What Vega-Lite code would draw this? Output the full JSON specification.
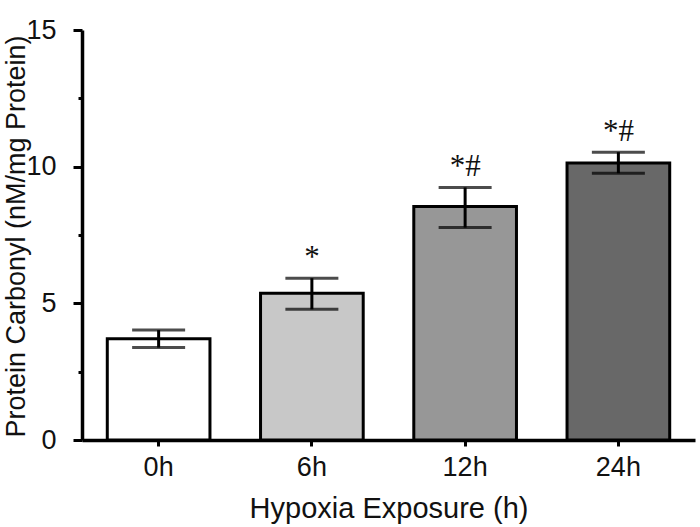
{
  "$schema": "https://vega.github.io/schema/vega-lite/v6.json",
  "autosize": "none",
  "width": 613,
  "height": 410,
  "padding": {"left": 82, "top": 30, "right": 5, "bottom": 87},
  "background": "white",
  "config": {"view": {"stroke": null}},
  "data": {
    "values": [
      {"time": "0h", "mean": 3.7, "lo": 3.38, "hi": 4.02, "sig": ""},
      {"time": "6h", "mean": 5.37, "lo": 4.78, "hi": 5.92, "sig": "*"},
      {"time": "12h", "mean": 8.54, "lo": 7.77, "hi": 9.24, "sig": "*#"},
      {"time": "24h", "mean": 10.13, "lo": 9.76, "hi": 10.53, "sig": "*#"}
    ]
  },
  "encoding": {
    "x": {
      "field": "time", "type": "nominal", "sort": ["0h", "6h", "12h", "24h"],
      "scale": {"paddingInner": 0.33, "paddingOuter": 0.165},
      "axis": {
        "title": "Hypoxia Exposure (h)", "labelAngle": 0,
        "labelFont": "Liberation Sans", "labelFontSize": 27, "labelColor": "#111",
        "labelPadding": 8,
        "titleFont": "Liberation Sans", "titleFontSize": 29, "titleFontWeight": "normal", "titleColor": "#111",
        "titleLetterSpacing": 1.5,
        "titlePadding": 14,
        "domainColor": "black", "domainWidth": 3.5,
        "tickColor": "black", "tickWidth": 3, "tickSize": 6
      }
    }
  },
  "layer": [
    {
      "mark": {"type": "bar", "stroke": "black", "strokeWidth": 3},
      "encoding": {
        "y": {
          "field": "mean", "type": "quantitative",
          "scale": {"domain": [0, 15], "nice": false},
          "axis": {
            "title": "Protein Carbonyl (nM/mg Protein)",
            "values": [0, 2.5, 5, 7.5, 10, 12.5, 15],
            "labelExpr": "datum.value % 5 === 0 ? datum.label : ''",
            "grid": false,
            "labelFont": "Liberation Sans", "labelFontSize": 27, "labelColor": "#111",
            "labelPadding": 17,
            "titleFont": "Liberation Sans", "titleFontSize": 27, "titleFontWeight": "normal", "titleColor": "#111",
            "titleLetterSpacing": 1.5,
            "titleX": -66, "titleY": 206, "titleAlign": "center", "titleBaseline": "middle", "titleAngle": -90,
            "domainColor": "black", "domainWidth": 3.5,
            "tickColor": "black", "tickWidth": 3,
            "tickSize": {"condition": {"test": "datum.value % 5 === 0", "value": 9}, "value": 4}
          }
        },
        "fill": {
          "field": "time", "type": "nominal", "legend": null,
          "scale": {"domain": ["0h", "6h", "12h", "24h"], "range": ["#ffffff", "#c8c8c8", "#979797", "#686868"]}
        }
      }
    },
    {
      "mark": {"type": "rule", "stroke": "black", "strokeWidth": 3},
      "encoding": {"y": {"field": "lo", "type": "quantitative"}, "y2": {"field": "hi"}}
    },
    {
      "mark": {"type": "tick", "color": "black", "thickness": 3, "size": 53, "orient": "horizontal"},
      "encoding": {"y": {"field": "hi", "type": "quantitative"}}
    },
    {
      "mark": {"type": "tick", "color": "black", "thickness": 3, "size": 53, "orient": "horizontal"},
      "encoding": {"y": {"field": "lo", "type": "quantitative"}}
    },
    {
      "mark": {"type": "text", "font": "Liberation Serif", "fontSize": 31, "baseline": "bottom", "dy": -4, "color": "#111"},
      "encoding": {"y": {"field": "hi", "type": "quantitative"}, "text": {"field": "sig"}}
    }
  ]
}
